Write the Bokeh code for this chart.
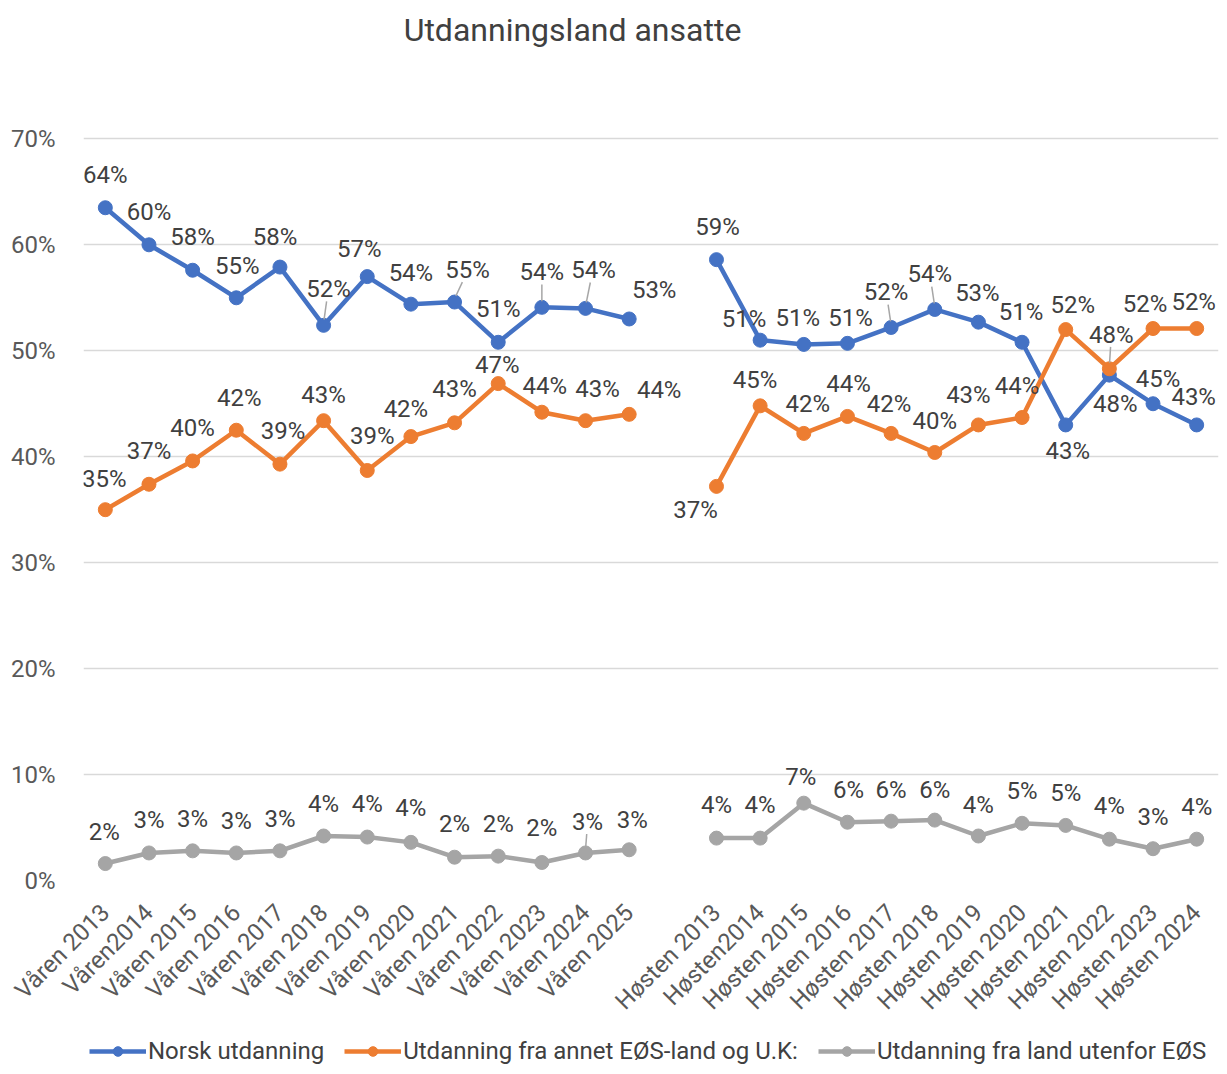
import math
from bokeh.plotting import figure
from bokeh.layouts import column
from bokeh.models import (ColumnDataSource, FixedTicker, PrintfTickFormatter, Legend,
                          LegendItem, Range1d, Label)
from bokeh.core.properties import value
from bokeh.embed import file_html
from bokeh.resources import INLINE

NAN = float("nan")

varen = ["Våren 2013", "Våren2014", "Våren 2015", "Våren 2016", "Våren 2017", "Våren 2018",
         "Våren 2019", "Våren 2020", "Våren 2021", "Våren 2022", "Våren 2023", "Våren 2024",
         "Våren 2025"]
hosten = ["Høsten 2013", "Høsten2014", "Høsten 2015", "Høsten 2016", "Høsten 2017",
          "Høsten 2018", "Høsten 2019", "Høsten 2020", "Høsten 2021", "Høsten 2022",
          "Høsten 2023", "Høsten 2024"]
categories = varen + [""] + hosten

norsk = [63.5, 60.0, 57.6, 55.0, 57.9, 52.4, 57.0, 54.4, 54.6, 50.8, 54.1, 54.0, 53.0,
         NAN,
         58.6, 51.0, 50.6, 50.7, 52.2, 53.9, 52.7, 50.8, 43.0, 47.7, 45.0, 43.0]
eos = [35.0, 37.4, 39.6, 42.5, 39.3, 43.4, 38.7, 41.9, 43.2, 46.9, 44.2, 43.4, 44.0,
       NAN,
       37.2, 44.8, 42.2, 43.8, 42.2, 40.4, 43.0, 43.7, 52.0, 48.3, 52.1, 52.1]
utenfor = [1.6, 2.6, 2.8, 2.6, 2.8, 4.2, 4.1, 3.6, 2.2, 2.3, 1.7, 2.6, 2.9,
           NAN,
           4.0, 4.0, 7.3, 5.5, 5.6, 5.7, 4.2, 5.4, 5.2, 3.9, 3.0, 3.9]

series_names = ["Norsk utdanning", "Utdanning fra annet EØS-land og U.K:",
                "Utdanning fra land utenfor EØS"]
colors = ["#4472C4", "#ED7D31", "#A5A5A5"]
chart_title = "Utdanningsland ansatte"

# label offsets in pixels (style): (dx, dy), dy positive = downwards
off_norsk = [(0, -33), (0, -33), (0, -33), (1, -32), (-5, -30), (5, -36), (-8, -28), (0, -31),
             (13, -32), (0, -33), (0, -35), (8, -38), (25, -29), None,
             (1, -33), (-16, -21), (-6, -26), (3, -25), (-5, -35), (-5, -35), (-1, -29),
             (-1, -30), (2, 26), (6, 29), (5, -25), (-3, -28)]
off_eos = [(-1, -31), (0, -33), (0, -33), (3, -32), (3, -33), (0, -26), (5, -34), (-5, -28),
           (0, -34), (-1, -19), (3, -26), (12, -32), (30, -24), None,
           (-21, 24), (-5, -26), (4, -29), (1, -32), (-2, -29), (0, -31), (-10, -30),
           (-5, -32), (7, -25), (2, -34), (-8, -25), (-3, -27)]
off_utenfor = [(-1, -32), (0, -33), (0, -32), (0, -32), (0, -32), (0, -32), (0, -33), (0, -34),
               (0, -33), (0, -32), (0, -34), (2, -31), (3, -30), None,
               (0, -33), (0, -33), (-3, -26), (1, -32), (0, -31), (0, -30), (0, -31),
               (0, -32), (0, -32), (0, -33), (0, -32), (0, -32)]
leaders = [[5, 8, 10, 11, 18, 19], [23], [11]]

W = 1219
H1, H2 = 1028, 38
FL, FR, FT = 83, 1, 0
FRAME_BOTTOM, GRID_TOP = 884, 139          # pixel rows of 0% and 70%
FB = H1 - FRAME_BOTTOM
frame_w = W - FL - FR
frame_h = H1 - FT - FB
pxy = (FRAME_BOTTOM - GRID_TOP) / 70.0
Y_TOP = frame_h / pxy
pxx = frame_w / len(categories)

p = figure(width=W, height=H1, output_backend="svg", toolbar_location=None, title=None,
           x_range=Range1d(-0.5, len(categories) - 0.5), y_range=Range1d(0, Y_TOP),
           min_border_left=FL, min_border_right=FR, min_border_top=FT, min_border_bottom=FB,
           outline_line_color=None, background_fill_color="white", border_fill_color="white")

p.xgrid.grid_line_color = None
p.ygrid.grid_line_color = "#D9D9D9"
p.ygrid.grid_line_width = 1.5
p.ygrid.ticker = FixedTicker(ticks=list(range(0, 71, 10)))

p.yaxis.ticker = FixedTicker(ticks=list(range(0, 71, 10)))
p.yaxis.formatter = PrintfTickFormatter(format="%d%%")
p.yaxis.axis_line_color = None
p.yaxis.major_tick_line_color = None
p.yaxis.minor_tick_line_color = None
p.yaxis.major_label_standoff = 22
p.yaxis.major_label_text_font = "Roboto"
p.yaxis.major_label_text_font_size = "24px"
p.yaxis.major_label_text_color = "#595959"

xticks = [i for i, c in enumerate(categories) if c]
p.xaxis.ticker = FixedTicker(ticks=xticks)
p.xaxis.major_label_overrides = {i: categories[i] for i in xticks}
p.xaxis.major_label_orientation = math.pi / 4
p.xaxis.axis_line_color = None
p.xaxis.major_tick_line_color = None
p.xaxis.minor_tick_line_color = None
p.xaxis.major_label_standoff = 22
p.xaxis.major_label_text_font = "Roboto"
p.xaxis.major_label_text_font_size = "24px"
p.xaxis.major_label_text_color = "#595959"

# title, placed in the empty band above the 70% line
title = Label(x=-0.5 + (572 - FL) / pxx, y=Y_TOP - 30 / pxy, text=chart_title,
              text_align="center", text_baseline="middle", text_font="Roboto",
              text_font_size="32px", text_color="#404040")
p.add_layout(title)

# legend figure below the chart
lf = figure(width=W, height=H2, output_backend="svg", toolbar_location=None, title=None,
            x_range=Range1d(0, 1), y_range=Range1d(0, 1),
            x_axis_location=None, y_axis_location=None, min_border=0,
            outline_line_color=None, background_fill_color="white", border_fill_color="white")
lf.xgrid.visible = False
lf.ygrid.visible = False

legend_items = []
text_sources = []
for vals, offs, color, name, lead in zip([norsk, eos, utenfor], [off_norsk, off_eos, off_utenfor],
                                         colors, series_names, leaders):
    xs = list(range(len(categories)))
    p.line(xs, vals, line_color=color, line_width=4.5, line_join="round")
    pts = [(i, v) for i, v in enumerate(vals) if not math.isnan(v)]
    src = ColumnDataSource(dict(
        x=[i for i, v in pts], y=[v for i, v in pts],
        label=[f"{round(v)}%" for i, v in pts],
        dx=[offs[i][0] for i, v in pts], dy=[offs[i][1] for i, v in pts]))
    p.scatter("x", "y", source=src, size=14, fill_color=color, line_color=color)
    text_sources.append(src)
    x0s, y0s, x1s, y1s = [], [], [], []
    for i in lead:
        dx, dy = offs[i]
        sgn = -1 if dy < 0 else 1
        x0s.append(i + dx * 0.1 / pxx)
        y0s.append(vals[i] - sgn * 6 / pxy)
        x1s.append(i + dx * 0.6 / pxx)
        y1s.append(vals[i] - (dy - sgn * 12) / pxy)
    if lead:
        p.segment(x0s, y0s, x1s, y1s, line_color="#A6A6A6", line_width=1.5)
    # legend proxies (one undrawn NaN point each)
    lr = lf.line(x=[NAN], y=[NAN], line_color=color, line_width=4.5)
    sr = lf.scatter(x=[NAN], y=[NAN], size=13, fill_color=color, line_color=color)
    legend_items.append(LegendItem(label=name, renderers=[lr, sr]))

for src in text_sources:
    p.text("x", "y", text="label", source=src, x_offset="dx", y_offset="dy",
           text_align="center", text_baseline="middle", text_font=value("Roboto"),
           text_font_size="24px", text_color="#404040")

legend = Legend(items=legend_items, orientation="horizontal", location=(6, 1),
                glyph_width=57, glyph_height=24, label_text_font="Roboto",
                label_text_font_size="24px", label_text_color="#404040",
                label_standoff=2, spacing=20, padding=0, margin=0,
                border_line_alpha=0, background_fill_alpha=0)
lf.add_layout(legend)

layout = column(p, lf, spacing=0)
open("out.html", "w").write(file_html(layout, INLINE))
